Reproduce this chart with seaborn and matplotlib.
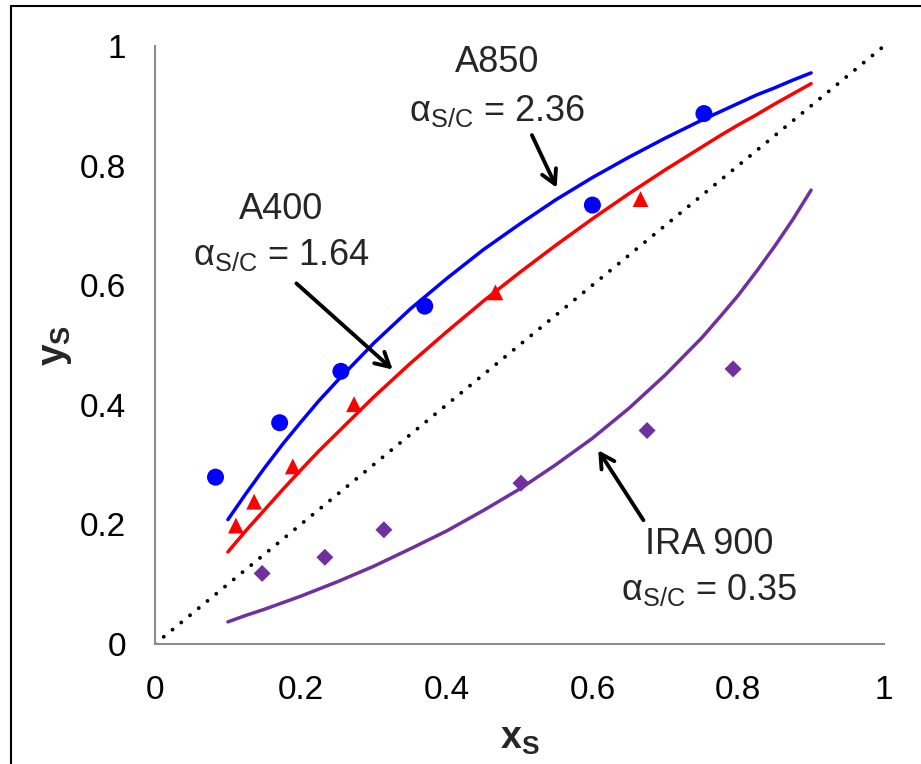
import numpy as np
import pandas as pd
import matplotlib
matplotlib.use("Agg")
import matplotlib.pyplot as plt
import seaborn as sns
from matplotlib.patches import Rectangle

# ---- data ----
x_fit = [0.100, 0.125, 0.150, 0.175, 0.200, 0.225, 0.250, 0.300, 0.350, 0.400,
         0.450, 0.500, 0.550, 0.600, 0.650, 0.700, 0.750, 0.775, 0.800,
         0.825, 0.850, 0.875, 0.900]
y_fit_a850 = [0.208, 0.252, 0.294, 0.334, 0.371, 0.407, 0.440, 0.503, 0.560,
              0.611, 0.659, 0.702, 0.743, 0.780, 0.814, 0.846, 0.876, 0.890,
              0.904, 0.918, 0.930, 0.943, 0.955]
y_fit_a400 = [0.154, 0.190, 0.224, 0.258, 0.291, 0.323, 0.353, 0.413, 0.469,
              0.522, 0.573, 0.621, 0.667, 0.711, 0.753, 0.793, 0.831, 0.850,
              0.868, 0.885, 0.903, 0.920, 0.937]
y_fit_ira900 = [0.037, 0.048, 0.058, 0.069, 0.080, 0.092, 0.104, 0.130, 0.159,
                0.189, 0.223, 0.259, 0.300, 0.344, 0.394, 0.450, 0.512, 0.547,
                0.583, 0.623, 0.665, 0.710, 0.759]

x_a850 = [0.083, 0.171, 0.255, 0.370, 0.600, 0.753]
y_a850 = [0.279, 0.370, 0.456, 0.565, 0.734, 0.887]
x_a400 = [0.111, 0.136, 0.189, 0.273, 0.467, 0.666]
y_a400 = [0.198, 0.238, 0.297, 0.401, 0.588, 0.744]
x_ira900 = [0.147, 0.233, 0.314, 0.502, 0.675, 0.793]
y_ira900 = [0.118, 0.145, 0.191, 0.269, 0.357, 0.460]

diag = [0, 1]
ticks = [0, 0.2, 0.4, 0.6, 0.8, 1]
tick_labels = ["0", "0.2", "0.4", "0.6", "0.8", "1"]

BLUE = "#0000FF"
RED = "#FF0000"
PURPLE = "#7030A0"

sns.set_style("white")
plt.rcParams["font.family"] = ["Liberation Sans", "DejaVu Sans"]
plt.rcParams["mathtext.fontset"] = "custom"
plt.rcParams["mathtext.rm"] = "Liberation Sans"
plt.rcParams["mathtext.it"] = "Liberation Sans:italic"
plt.rcParams["mathtext.bf"] = "Liberation Sans:bold"

fig = plt.figure(figsize=(9.21, 7.64), dpi=100)
ax = fig.add_axes([155 / 921, 1 - 644 / 764, 729 / 921, 598 / 764])

# outer frame (left and top edges visible)
fig.patches.append(Rectangle((11 / 921, -0.1), 1.2, 1 - 6 / 764 + 0.1,
                             transform=fig.transFigure, fill=False,
                             edgecolor="black", lw=1.5, zorder=0))

# diagonal
sns.lineplot(x=diag, y=diag, ax=ax, color="black", lw=2.8,
             linestyle=(0, (0.01, 2.9)), dash_capstyle="round")

# fitted curves
sns.lineplot(x=x_fit, y=y_fit_a850, ax=ax, color=BLUE, lw=2.5, sort=False)
sns.lineplot(x=x_fit, y=y_fit_a400, ax=ax, color=RED, lw=2.5, sort=False)
sns.lineplot(x=x_fit, y=y_fit_ira900, ax=ax, color=PURPLE, lw=2.5, sort=False)

# data points
sns.scatterplot(x=x_a850, y=y_a850, ax=ax, color=BLUE, marker="o", s=150,
                edgecolor="none", zorder=5)
sns.scatterplot(x=x_a400, y=y_a400, ax=ax, color=RED, marker="^", s=130,
                edgecolor="none", zorder=5)
sns.scatterplot(x=x_ira900, y=y_ira900, ax=ax, color=PURPLE, marker="D", s=75,
                edgecolor="none", zorder=5)

ax.set_xlim(0, 1)
ax.set_ylim(0, 1)
ax.set_xticks(ticks)
ax.set_xticklabels(tick_labels)
ax.set_yticks(ticks)
ax.set_yticklabels(tick_labels)
for s in ["top", "right"]:
    ax.spines[s].set_visible(False)
for s in ["left", "bottom"]:
    ax.spines[s].set_color("#8c8c8c")
    ax.spines[s].set_linewidth(1.5)
ax.tick_params(axis="both", direction="out", length=6, width=1.2,
               color="#8c8c8c", labelsize=24, labelcolor="black")
ax.tick_params(axis="x", pad=16)
ax.tick_params(axis="y", pad=15)

ax.set_xlabel(r"$\mathbf{x}_{\mathbf{S}}$", fontsize=27, labelpad=11)
ax.set_ylabel(r"$\mathbf{y}_{\mathbf{S}}$", fontsize=28, labelpad=4)

# annotations
fs = 26
def label(x, y1, y2, name, val):
    ax.text(x, y1, name, fontsize=fs, ha="center", va="center")
    ax.text(x, y2, "α" + r"$_{\mathrm{S/C}}$" + " = " + val, fontsize=fs,
            ha="center", va="center")

label(0.469, 0.972, 0.891, "A850", "2.36")
label(0.173, 0.727, 0.650, "A400", "1.64")
label(0.760, 0.167, 0.090, "IRA 900", "0.35")

arrow_kw = dict(arrowstyle="->,head_length=1.0,head_width=0.55",
                color="black", lw=2.8, shrinkA=0, shrinkB=0)
ax.annotate("", xy=(0.551, 0.763), xytext=(0.517, 0.851), arrowprops=arrow_kw)
ax.annotate("", xy=(0.326, 0.459), xytext=(0.194, 0.603), arrowprops=arrow_kw)
ax.annotate("", xy=(0.608, 0.324), xytext=(0.670, 0.207), arrowprops=arrow_kw)

fig.savefig("out.png", dpi=100)
